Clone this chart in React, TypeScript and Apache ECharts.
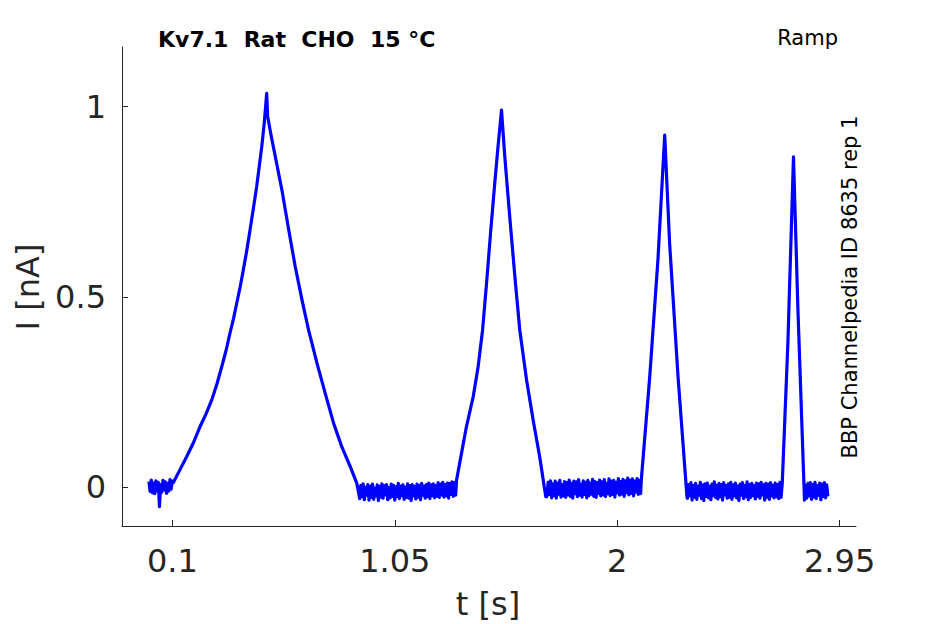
import React, { useEffect, useRef } from "react";
import * as echarts from "echarts";

// sampling step of the baseline stretches (s)
const DT = 0.005;

// axis ticks
const xTicks = [0.1, 1.05, 2, 2.95];
const xTickLabels = ["0.1", "1.05", "2", "2.95"];
const yTicks = [0, 0.5, 1];
const yTickLabels = ["0", "0.5", "1"];

// baseline stretches (current in nA, sampled every DT from the given start time)
const baseAStart = 0.0;
const baseA = [0.014, -0.012, 0.018, -0.016, 0.010, -0.018, 0.016, -0.010, 0.012, -0.052, 0.006, -0.014, 0.017, -0.008, 0.013, -0.017, 0.009, -0.011, 0.019, -0.006, 0.015];
const baseBStart = 0.9;
const baseB = [
  -0.031, 0.004, -0.026, 0.008, -0.034, -0.001, -0.022, 0.006, -0.035, 0.002,
  -0.028, 0.007, -0.033, -0.003, -0.024, 0.005, -0.036, 0.001, -0.027, 0.008,
  -0.030, 0.003, -0.021, 0.006, -0.034, -0.002, -0.029, 0.007, -0.025, 0.004,
  -0.035, 0.000, -0.026, 0.009, -0.031, 0.002, -0.023, 0.005, -0.033, -0.001,
  -0.028, 0.008, -0.030, 0.003, -0.036, 0.006, -0.024, 0.001, -0.032, 0.007,
  -0.027, 0.004, -0.034, 0.009, -0.022, 0.002, -0.030, 0.006, -0.026, 0.010,
  -0.031, 0.005, -0.023, 0.008, -0.029, 0.003, -0.025, 0.011, -0.028, 0.007,
  -0.021, 0.012, -0.027, 0.006, -0.024, 0.010, -0.030, 0.009, -0.020, 0.013,
  -0.025, 0.011, -0.022,
];
const baseCStart = 1.7;
const baseC = [
  -0.026, 0.012, -0.020, 0.016, -0.029, 0.008, -0.023, 0.015, -0.030, 0.010,
  -0.019, 0.017, -0.027, 0.006, -0.024, 0.014, -0.028, 0.011, -0.021, 0.018,
  -0.025, 0.009, -0.030, 0.015, -0.018, 0.013, -0.026, 0.019, -0.022, 0.007,
  -0.027, 0.016, -0.020, 0.012, -0.029, 0.017, -0.023, 0.010, -0.019, 0.020,
  -0.025, 0.014, -0.028, 0.011, -0.017, 0.018, -0.024, 0.013, -0.021, 0.019,
  -0.026, 0.009, -0.018, 0.021, -0.023, 0.015, -0.020, 0.017, -0.027, 0.012,
  -0.016, 0.022, -0.022, 0.014, -0.019, 0.020, -0.025, 0.016, -0.015, 0.023,
  -0.021, 0.018, -0.017, 0.021, -0.024, 0.015, -0.014, 0.022, -0.020, 0.017,
  -0.018,
];
const baseDStart = 2.3;
const baseD = [
  -0.030, 0.006, -0.024, 0.011, -0.035, 0.003, -0.027, 0.009, -0.033, 0.001,
  -0.022, 0.012, -0.031, 0.005, -0.036, 0.008, -0.025, 0.010, -0.029, 0.002,
  -0.034, 0.007, -0.023, 0.013, -0.028, 0.004, -0.032, 0.009, -0.026, 0.006,
  -0.035, 0.011, -0.021, 0.003, -0.030, 0.008, -0.027, 0.012, -0.033, 0.005,
  -0.024, 0.010, -0.029, 0.002, -0.036, 0.007, -0.022, 0.011, -0.031, 0.004,
  -0.026, 0.013, -0.034, 0.006, -0.028, 0.009, -0.023, 0.003, -0.032, 0.010,
  -0.025, 0.008, -0.030, 0.012, -0.021, 0.005, -0.035, 0.009, -0.027, 0.007,
  -0.033, 0.011, -0.024, 0.004, -0.029, 0.010, -0.026, 0.006, -0.031, 0.012,
  -0.028,
];
const baseEStart = 2.805;
const baseE = [0.004, -0.030, 0.009, -0.024, 0.011, -0.033, 0.006, -0.027, 0.012, -0.031, 0.003, -0.022, 0.010, -0.034, 0.007, -0.026, 0.011, -0.029, 0.005, -0.025];

// ramp responses (time s, current nA)
const ramp1T = [0.105, 0.13, 0.161, 0.19, 0.218, 0.244, 0.268, 0.29, 0.311, 0.33, 0.346, 0.361, 0.375, 0.39, 0.403, 0.418, 0.432, 0.446, 0.46, 0.471, 0.482, 0.493, 0.503, 0.507, 0.52, 0.54, 0.568, 0.597, 0.625, 0.654, 0.682, 0.718, 0.753, 0.789, 0.824, 0.86, 0.888, 0.897];
const ramp1I = [0.012, 0.042, 0.079, 0.116, 0.158, 0.192, 0.228, 0.27, 0.316, 0.36, 0.404, 0.442, 0.483, 0.527, 0.57, 0.622, 0.676, 0.732, 0.789, 0.842, 0.895, 0.96, 1.035, 0.975, 0.93, 0.868, 0.781, 0.676, 0.579, 0.491, 0.412, 0.325, 0.246, 0.167, 0.105, 0.053, 0.009, -0.02];
const ramp2T = [1.314, 1.335, 1.356, 1.385, 1.406, 1.425, 1.442, 1.459, 1.477, 1.491, 1.506, 1.52, 1.541, 1.563, 1.584, 1.613, 1.641, 1.669, 1.695];
const ramp2I = [0.018, 0.088, 0.158, 0.237, 0.316, 0.412, 0.535, 0.667, 0.798, 0.895, 0.991, 0.868, 0.711, 0.553, 0.412, 0.281, 0.176, 0.079, -0.026];
const ramp3T = [2.103, 2.139, 2.174, 2.203, 2.224, 2.26, 2.298];
const ramp3I = [0.018, 0.289, 0.597, 0.925, 0.64, 0.289, -0.026];
const ramp4T = [2.705, 2.729, 2.753, 2.772, 2.8];
const ramp4I = [0.009, 0.377, 0.868, 0.465, -0.035];

const sampled = (t0: number, vals: number[]) =>
  vals.map((v, i) => [Math.round((t0 + i * DT) * 1000) / 1000, v]);
const paired = (ts: number[], vs: number[]) => ts.map((t, i) => [t, vs[i]]);

const FONT = "DejaVu Sans";
const AX = "#262626";

export default function App() {
  const ref = useRef<HTMLDivElement>(null);
  useEffect(() => {
    if (!ref.current) return;
    const chart = echarts.init(ref.current, undefined, { renderer: "svg" });
    const data = [
      ...sampled(baseAStart, baseA),
      ...paired(ramp1T, ramp1I),
      ...sampled(baseBStart, baseB),
      ...paired(ramp2T, ramp2I),
      ...sampled(baseCStart, baseC),
      ...paired(ramp3T, ramp3I),
      ...sampled(baseDStart, baseD),
      ...paired(ramp4T, ramp4I),
      ...sampled(baseEStart, baseE),
    ];
    chart.setOption({
      animation: false,
      backgroundColor: "#ffffff",
      grid: { left: 122, right: 89, top: 47, bottom: 98, containLabel: false },
      xAxis: {
        type: "value",
        min: -0.115,
        max: 3.02,
        axisLine: { show: true, onZero: false, lineStyle: { color: AX, width: 1 } },
        axisTick: { show: true, inside: true, length: 6, customValues: xTicks, lineStyle: { color: AX } },
        axisLabel: {
          customValues: xTicks,
          formatter: (v: number) => xTickLabels[xTicks.indexOf(v)] ?? String(v),
          fontSize: 32,
          fontFamily: FONT,
          color: AX,
          margin: 19,
        },
        splitLine: { show: false },
      },
      yAxis: {
        type: "value",
        min: -0.103,
        max: 1.157,
        axisLine: { show: true, onZero: false, lineStyle: { color: AX, width: 1 } },
        axisTick: { show: true, inside: true, length: 6, customValues: yTicks, lineStyle: { color: AX } },
        axisLabel: {
          customValues: yTicks,
          formatter: (v: number) => yTickLabels[yTicks.indexOf(v)] ?? String(v),
          fontSize: 32,
          fontFamily: FONT,
          color: AX,
          margin: 16,
        },
        splitLine: { show: false },
      },
      series: [
        {
          type: "line",
          data,
          showSymbol: false,
          symbol: "none",
          lineStyle: { color: "#0000ff", width: 3.2, join: "round" },
          clip: true,
        },
      ],
      graphic: [
        {
          type: "text",
          x: 158,
          y: 39,
          style: {
            text: "Kv7.1  Rat  CHO  15 °C",
            font: `bold 22px "${FONT}"`,
            fill: "#000000",
            align: "left",
            verticalAlign: "middle",
          },
        },
        {
          type: "text",
          x: 838,
          y: 38,
          style: {
            text: "Ramp",
            font: `21px "${FONT}"`,
            fill: "#000000",
            align: "right",
            verticalAlign: "middle",
          },
        },
        {
          type: "text",
          x: 850,
          y: 287,
          rotation: Math.PI / 2,
          style: {
            text: "BBP Channelpedia ID 8635 rep 1",
            font: `21px "${FONT}"`,
            fill: "#000000",
            align: "center",
            verticalAlign: "middle",
          },
        },
        {
          type: "text",
          x: 28,
          y: 287,
          rotation: Math.PI / 2,
          style: {
            text: "I [nA]",
            font: `32px "${FONT}"`,
            fill: AX,
            align: "center",
            verticalAlign: "middle",
          },
        },
        {
          type: "text",
          x: 488,
          y: 604,
          style: {
            text: "t [s]",
            font: `32px "${FONT}"`,
            fill: AX,
            align: "center",
            verticalAlign: "middle",
          },
        },
      ],
    });
    return () => chart.dispose();
  }, []);
  return (
    <div
      ref={ref}
      style={{ position: "fixed", left: 0, top: 0, width: 945, height: 624, background: "#fff" }}
    />
  );
}
